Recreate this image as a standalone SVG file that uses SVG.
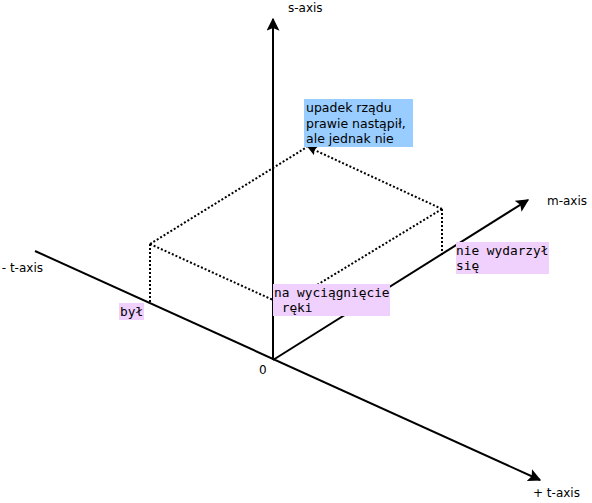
<svg xmlns="http://www.w3.org/2000/svg" width="592" height="503" viewBox="0 0 592 503">
<style>
.ax{stroke:#000;stroke-width:2;fill:none}
.dt{stroke:#000;stroke-width:2;stroke-dasharray:2,2;fill:none}
.lbl{font-family:"DejaVu Sans",sans-serif;font-size:12px;fill:#000}
.txt{font-family:"DejaVu Sans",sans-serif;font-size:12.5px;fill:#000}
.mono{font-family:"DejaVu Sans Mono",monospace;font-size:12.8px;fill:#000;white-space:pre}
.pink{fill:#f0d0fc}
.blue{fill:#99ccff}
</style>
<defs>
<marker id="ah" viewBox="0 0 10 10" refX="9" refY="5" markerWidth="10" markerHeight="10" markerUnits="userSpaceOnUse" orient="auto"><path d="M0,0 L10,5 L0,10 L2,5 Z" fill="#000"/></marker>
<marker id="ahs" viewBox="0 0 10 10" refX="9" refY="5" markerWidth="13" markerHeight="13" markerUnits="userSpaceOnUse" orient="auto"><path d="M0,0 L10,5 L0,10 L2,5 Z" fill="#000"/></marker>
</defs>
<g id="connectors">
<line class="ax" x1="273" y1="360" x2="273" y2="19" marker-end="url(#ahs)"/>
<line class="ax" x1="35" y1="251" x2="540" y2="480" marker-end="url(#ahs)"/>
<line class="ax" x1="273" y1="360" x2="528" y2="200" marker-end="url(#ahs)"/>
<line class="dt" x1="150" y1="244" x2="307" y2="147"/>
<line class="dt" x1="442" y1="209" x2="308" y2="147" marker-end="url(#ah)"/>
<line class="dt" x1="150" y1="244" x2="284" y2="305"/>
<line class="dt" x1="442" y1="209" x2="284" y2="305"/>
<line class="dt" x1="150" y1="244" x2="150" y2="303"/>
<line class="dt" x1="442" y1="209" x2="442" y2="256"/>
</g>
<g id="axis-labels">
<text class="lbl" x="288" y="12">s-axis</text>
<text class="lbl" x="547" y="205">m-axis</text>
<text class="lbl" x="43" y="272" text-anchor="end">- t-axis</text>
<text class="lbl" x="533" y="497">+ t-axis</text>
<text class="lbl" x="259" y="374">0</text>
</g>
<g id="node-upadek">
<rect class="blue" x="304" y="99" width="109" height="48"/>
<text class="txt" x="306" y="112">upadek rządu</text>
<text class="txt" x="306" y="128">prawie nastąpił,</text>
<text class="txt" x="306" y="143">ale jednak nie</text>
</g>
<g id="node-byl">
<rect class="pink" x="119" y="303" width="25" height="17"/>
<text class="mono" x="120" y="316">był</text>
</g>
<g id="node-reki">
<rect class="pink" x="273" y="284" width="117" height="32"/>
<text class="mono" x="274" y="297">na wyciągnięcie</text>
<text class="mono" x="274" y="312" xml:space="preserve"> ręki</text>
</g>
<g id="node-nie">
<rect class="pink" x="456" y="242" width="93" height="32"/>
<text class="mono" x="456" y="255">nie wydarzył</text>
<text class="mono" x="456" y="270">się</text>
</g>
</svg>
